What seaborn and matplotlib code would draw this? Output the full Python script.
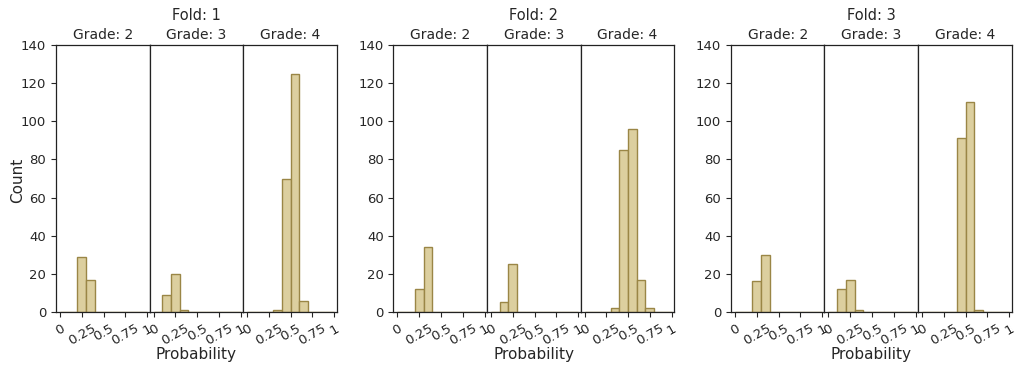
import numpy as np
import pandas as pd
import matplotlib
matplotlib.use("Agg")
import matplotlib.pyplot as plt
import seaborn as sns

# ---- data ----
folds = [1, 2, 3]
grades = [2, 3, 4]
bin_edges = [0.0, 0.1, 0.2, 0.3, 0.4, 0.5, 0.6, 0.7, 0.8, 0.9, 1.0]
bin_centers = [0.05, 0.15, 0.25, 0.35, 0.45, 0.55, 0.65, 0.75, 0.85, 0.95]

fold1_grade2 = [0, 0, 29, 17, 0, 0, 0, 0, 0, 0]
fold1_grade3 = [0, 9, 20, 1, 0, 0, 0, 0, 0, 0]
fold1_grade4 = [0, 0, 0, 1, 70, 125, 6, 0, 0, 0]
fold2_grade2 = [0, 0, 12, 34, 0, 0, 0, 0, 0, 0]
fold2_grade3 = [0, 5, 25, 0, 0, 0, 0, 0, 0, 0]
fold2_grade4 = [0, 0, 0, 2, 85, 96, 17, 2, 0, 0]
fold3_grade2 = [0, 0, 16, 30, 0, 0, 0, 0, 0, 0]
fold3_grade3 = [0, 12, 17, 1, 0, 0, 0, 0, 0, 0]
fold3_grade4 = [0, 0, 0, 0, 91, 110, 1, 0, 0, 0]

counts = {
    (1, 2): fold1_grade2, (1, 3): fold1_grade3, (1, 4): fold1_grade4,
    (2, 2): fold2_grade2, (2, 3): fold2_grade3, (2, 4): fold2_grade4,
    (3, 2): fold3_grade2, (3, 3): fold3_grade3, (3, 4): fold3_grade4,
}

xticks = [0, 0.25, 0.5, 0.75, 1]
xticklabels = ["0", "0.25", "0.5", "0.75", "1"]
yticks = [0, 20, 40, 60, 80, 100, 120, 140]

rows = []
for (f, g), c in counts.items():
    for x, w in zip(bin_centers, c):
        rows.append({"fold": f, "grade": g, "prob": x, "count": w})
df = pd.DataFrame(rows)

# ---- plotting ----
sns.set_style("ticks")
plt.rcParams["font.family"] = ["DejaVu Sans"]

fig = plt.figure(figsize=(10.22, 3.65), dpi=100)
outer = fig.add_gridspec(1, 3, left=56 / 1022, right=1011.5 / 1022,
                         bottom=1 - 312 / 365, top=1 - 45 / 365, wspace=0.203)

face = "#dccf9f"
edge = "#9a8646"

for fi, f in enumerate(folds):
    inner = outer[fi].subgridspec(1, 3, wspace=0)
    first_ax = None
    for gi, g in enumerate(grades):
        ax = fig.add_subplot(inner[gi], sharey=first_ax)
        if first_ax is None:
            first_ax = ax
        sub = df[(df.fold == f) & (df.grade == g)]
        sns.histplot(data=sub, x="prob", weights="count", bins=bin_edges,
                     color=face, edgecolor=edge, alpha=1, linewidth=1.0, ax=ax)
        ax.set_xlim(-0.046, 1.028)
        ax.set_ylim(0, 140)
        ax.set_xticks(xticks)
        ax.set_xticklabels(xticklabels, rotation=30, fontsize=9.5)
        ax.set_title(f"Grade: {g}", fontsize=10, pad=4)
        ax.set_xlabel("")
        ax.set_ylabel("")
        for s in ax.spines.values():
            s.set_visible(True)
            s.set_color("#222222")
            s.set_linewidth(0.9)
        if gi == 0:
            ax.set_yticks(yticks)
            ax.tick_params(axis="y", labelsize=9.5)
        else:
            ax.tick_params(axis="y", left=False, labelleft=False)
    # group titles / labels
    pos_l = fig.axes[-3].get_position()
    pos_r = fig.axes[-1].get_position()
    xc = (pos_l.x0 + pos_r.x1) / 2
    fig.text(xc, 1 - 15 / 365, f"Fold: {f}", ha="center", va="center", fontsize=10.5)
    fig.text(xc, 1 - 354 / 365, "Probability", ha="center", va="center", fontsize=11)

fig.text(18 / 1022, 1 - 180 / 365, "Count", rotation=90, ha="center", va="center", fontsize=11)

fig.savefig("out.png", dpi=100)
